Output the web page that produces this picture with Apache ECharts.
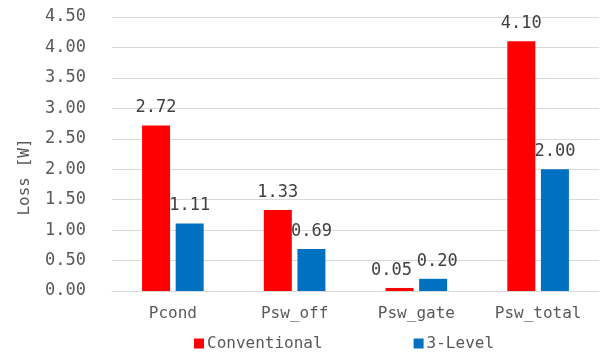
<!DOCTYPE html>
<html>
<head>
<meta charset="utf-8">
<script src="https://cdn.jsdelivr.net/npm/echarts@6/dist/echarts.min.js"></script>
<style>
  html, body { margin: 0; padding: 0; background: #fff; }
  #chart { width: 606px; height: 356px; }
</style>
</head>
<body>
<div id="chart"></div>
<script>
// Loss breakdown per component
const categories = ['Pcond', 'Psw_off', 'Psw_gate', 'Psw_total'];
const conventional = [2.72, 1.33, 0.05, 4.10];
const threeLevel = [1.11, 0.69, 0.20, 2.00];
const seriesNames = ['Conventional', '3-Level'];

const FONT = '"DejaVu Sans Mono", monospace';

// small sideways nudges so the two value labels of the short Psw_gate bars don't collide
const labelNudgeConv = [0, 0, -8, 0];
const labelNudge3L = [0, 0, 4, 0];

const chart = echarts.init(document.getElementById('chart'), null, { renderer: 'canvas' });

const labelStyle = {
  show: true,
  position: 'top',
  distance: 9,
  color: '#404040',
  fontFamily: FONT,
  fontSize: 17,
  formatter: p => p.value.toFixed(2)
};

const withNudge = (values, nudges) => values.map((v, i) => ({
  value: v,
  label: { offset: [nudges[i], 0] }
}));

chart.setOption({
  animation: false,
  textStyle: { fontFamily: FONT },
  grid: { left: 112, right: 7, top: 17, bottom: 65, containLabel: false },
  legend: {
    data: seriesNames,
    top: 334,
    left: 194,
    padding: 0,
    itemWidth: 10,
    itemHeight: 10,
    itemGap: 91,
    icon: 'rect',
    textStyle: { color: '#595959', fontFamily: FONT, fontSize: 16, lineHeight: 19, padding: [0, 0, 0, -2] }
  },
  xAxis: {
    type: 'category',
    data: categories,
    axisTick: { show: false },
    axisLine: { lineStyle: { color: '#d9d9d9', width: 1 } },
    axisLabel: { color: '#595959', fontFamily: FONT, fontSize: 16, margin: 15 }
  },
  yAxis: {
    type: 'value',
    min: 0,
    max: 4.5,
    interval: 0.5,
    axisLine: { show: false },
    axisTick: { show: false },
    splitLine: { lineStyle: { color: '#d9d9d9', width: 1 } },
    axisLabel: {
      color: '#595959',
      fontFamily: FONT,
      fontSize: 17,
      margin: 26,
      formatter: v => v.toFixed(2)
    }
  },
  graphic: [{
    type: 'text',
    x: 25,
    y: 177,
    rotation: Math.PI / 2,
    style: {
      text: 'Loss [W]',
      fill: '#595959',
      font: '16px ' + FONT,
      textAlign: 'center',
      textVerticalAlign: 'middle'
    }
  }],
  series: [
    {
      name: seriesNames[0],
      type: 'bar',
      data: withNudge(conventional, labelNudgeConv),
      barWidth: 28,
      barGap: '20%',
      itemStyle: { color: '#ff0000' },
      label: labelStyle
    },
    {
      name: seriesNames[1],
      type: 'bar',
      data: withNudge(threeLevel, labelNudge3L),
      barWidth: 28,
      barGap: '20%',
      itemStyle: { color: '#0070c0' },
      label: labelStyle
    }
  ]
});
</script>
</body>
</html>
